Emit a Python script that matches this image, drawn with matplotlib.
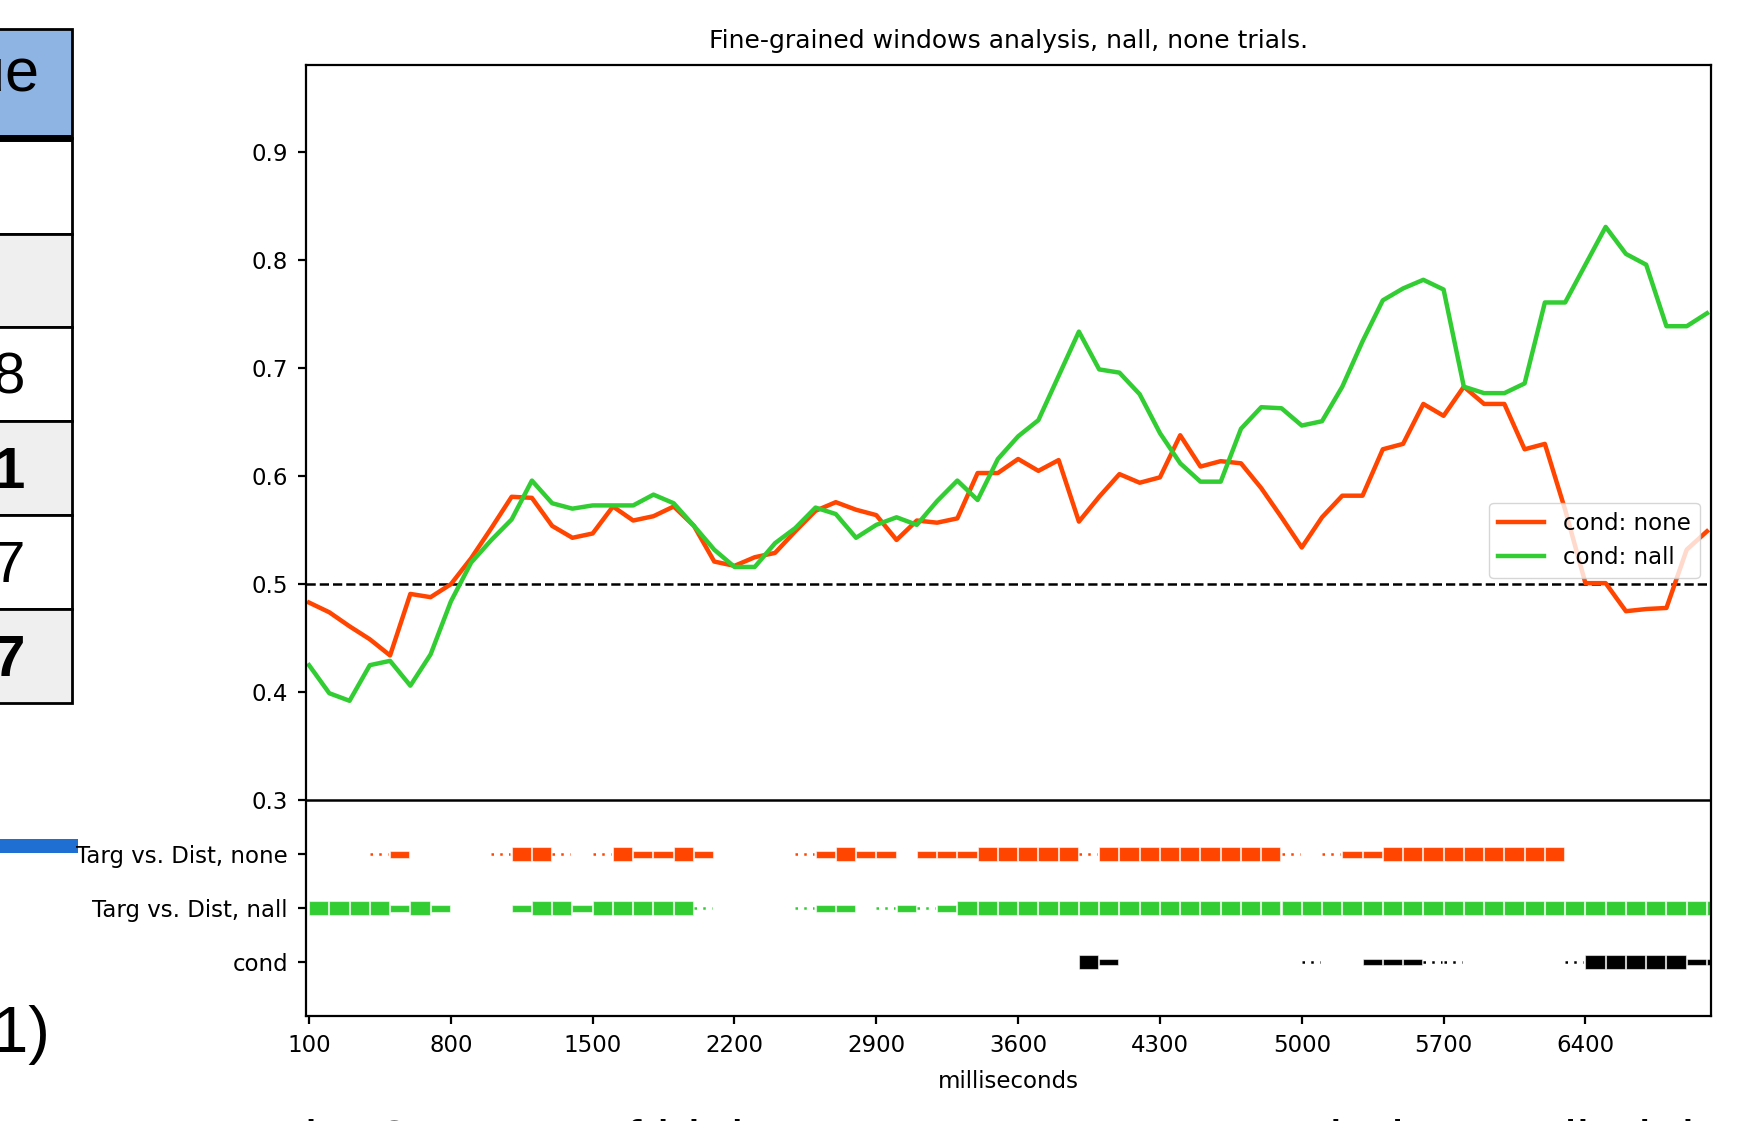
import matplotlib
matplotlib.use("Agg")
import matplotlib.pyplot as plt
from matplotlib.patches import Rectangle
import numpy as np

# ---- data ---------------------------------------------------------------
t_first, t_step = 100, 100                     # window onsets in ms
none_acc = [0.483, 0.474, 0.461, 0.449, 0.434, 0.491, 0.488, 0.500, 0.524, 0.552,
            0.581, 0.580, 0.554, 0.543, 0.547, 0.572, 0.559, 0.563, 0.572, 0.554,
            0.521, 0.517, 0.525, 0.529, 0.549, 0.568, 0.576, 0.569, 0.564, 0.541,
            0.559, 0.557, 0.561, 0.603, 0.603, 0.616, 0.605, 0.615, 0.558, 0.581,
            0.602, 0.594, 0.599, 0.638, 0.609, 0.614, 0.612, 0.589, 0.562, 0.534,
            0.562, 0.582, 0.582, 0.625, 0.630, 0.667, 0.656, 0.683, 0.667, 0.667,
            0.625, 0.630, 0.569, 0.501, 0.501, 0.475, 0.477, 0.478, 0.532, 0.549]
nall_acc = [0.425, 0.399, 0.392, 0.425, 0.429, 0.406, 0.435, 0.484, 0.520, 0.541,
            0.560, 0.596, 0.575, 0.570, 0.573, 0.573, 0.573, 0.583, 0.575, 0.554,
            0.532, 0.516, 0.516, 0.538, 0.552, 0.571, 0.565, 0.543, 0.555, 0.562,
            0.555, 0.577, 0.596, 0.578, 0.616, 0.637, 0.652, 0.693, 0.734, 0.699,
            0.696, 0.676, 0.640, 0.612, 0.595, 0.595, 0.644, 0.664, 0.663, 0.647,
            0.651, 0.683, 0.725, 0.763, 0.774, 0.782, 0.773, 0.683, 0.677, 0.677,
            0.686, 0.761, 0.761, 0.796, 0.831, 0.806, 0.796, 0.739, 0.739, 0.751]

# significance per window: 0 none, 1 dotted, 2 thin bar, 3 thick bar
sig_none = [0, 0, 0, 1, 2, 0, 0, 0, 0, 1,
            3, 3, 1, 0, 1, 3, 2, 2, 3, 2,
            0, 0, 0, 0, 1, 2, 3, 2, 2, 0,
            2, 2, 2, 3, 3, 3, 3, 3, 1, 3,
            3, 3, 3, 3, 3, 3, 3, 3, 1, 0,
            1, 2, 2, 3, 3, 3, 3, 3, 3, 3,
            3, 3, 0, 0, 0, 0, 0, 0, 0, 0]
sig_nall = [3, 3, 3, 3, 2, 3, 2, 0, 0, 0,
            2, 3, 3, 2, 3, 3, 3, 3, 3, 1,
            0, 0, 0, 0, 1, 2, 2, 0, 1, 2,
            1, 2, 3, 3, 3, 3, 3, 3, 3, 3,
            3, 3, 3, 3, 3, 3, 3, 3, 3, 3,
            3, 3, 3, 3, 3, 3, 3, 3, 3, 3,
            3, 3, 3, 3, 3, 3, 3, 3, 3, 3]
sig_cond = [0, 0, 0, 0, 0, 0, 0, 0, 0, 0,
            0, 0, 0, 0, 0, 0, 0, 0, 0, 0,
            0, 0, 0, 0, 0, 0, 0, 0, 0, 0,
            0, 0, 0, 0, 0, 0, 0, 0, 3, 2,
            0, 0, 0, 0, 0, 0, 0, 0, 0, 1,
            0, 0, 2, 2, 2, 1, 1, 0, 0, 0,
            0, 0, 1, 3, 3, 3, 3, 3, 2, 2]

row_labels = ["Targ vs. Dist, none", "Targ vs. Dist, nall", "cond"]
row_pos = [0.25, 0.20, 0.15]
acc_ticks = [0.3, 0.4, 0.5, 0.6, 0.7, 0.8, 0.9]
x_ticks = [100, 800, 1500, 2200, 2900, 3600, 4300, 5000, 5700, 6400]

RED = "#ff4500"
GREEN = "#32cd32"

times = t_first + t_step * np.arange(len(none_acc))

fig = plt.figure(figsize=(17.45, 11.21), dpi=100)

# ---- page around the chart (cropped table, caption) ---------------------
deco = fig.add_axes([0, 0, 1, 1], zorder=-1)
deco.set_xlim(0, 1745)
deco.set_ylim(1121, 0)
deco.axis("off")

cell_edges = [29, 138, 234, 327, 421, 515, 609, 703]
cell_fill = ["#8db4e2", "white", "#efefef", "white", "#efefef", "white", "#efefef"]
for k in range(len(cell_fill)):
    deco.add_patch(Rectangle((-5, cell_edges[k]), 77, cell_edges[k+1] - cell_edges[k],
                             facecolor=cell_fill[k], edgecolor="black", linewidth=2))
deco.plot([-5, 72], [138, 138], color="black", linewidth=5, solid_capstyle="butt")
sans = ["Liberation Sans", "DejaVu Sans"]
deco.text(39, 92, "ue", ha="right", va="baseline", fontsize=44, family=sans)
cell_text = ["8", "1", "7", "7"]
cell_bold = [False, True, False, True]
for k, (s, b) in enumerate(zip(cell_text, cell_bold)):
    yc = (cell_edges[k+3] + cell_edges[k+4]) / 2
    deco.text(25, yc + 20, s, ha="right", va="baseline", fontsize=42, family=sans,
              fontweight="bold" if b else "normal")
deco.add_patch(Rectangle((0, 839), 78, 14, facecolor="#1f6fd2", edgecolor="none"))
deco.text(50, 1052, "1)", ha="right", va="baseline", fontsize=47, family=sans)
deco.text(271, 1159, "Fig. 3: Rows of highest test accuracy per window, nall trials, cuts of the right",
          ha="left", va="baseline", fontsize=40, family=sans)

# ---- chart --------------------------------------------------------------
ax = fig.add_axes([0.17536, 0.09367, 0.80516, 0.84835])

ax.axhline(0.5, color="black", linestyle="--", linewidth=1.8)
ax.axhline(0.3, color="black", linewidth=1.8)
ax.plot(times, none_acc, color=RED, linewidth=3.2, label="cond: none")
ax.plot(times, nall_acc, color=GREEN, linewidth=3.2, label="cond: nall")

win_w = 0.95 * t_step
for y, sig, col in zip(row_pos, [sig_none, sig_nall, sig_cond], [RED, GREEN, "black"]):
    sig = np.asarray(sig)
    for lvl, h in ((3, 0.0136), (2, 0.0064)):
        t = times[sig == lvl]
        ax.broken_barh([(x, win_w) for x in t], (y - h / 2, h), facecolors=col,
                       edgecolors=(1, 1, 1, 0.55), linewidth=0.8)
    t = times[sig == 1]
    ax.hlines([y] * len(t), t, t + 0.9 * t_step, colors=col, linewidth=1.8,
              linestyles=[(0, (1, 2.5))])

ax.set_xlim(85, 7020)
ax.set_ylim(0.1, 0.981)
ax.set_xticks(x_ticks)
ax.set_xticklabels([str(v) for v in x_ticks])
ax.set_yticks(row_pos + acc_ticks)
ax.set_yticklabels(row_labels + ["%.1f" % v for v in acc_ticks])

for sp in ax.spines.values():
    sp.set_linewidth(1.6)
ax.tick_params(direction="out", length=6, width=1.6, labelsize=16.5, pad=7,
               top=False, right=False)

ax.set_title("Fine-grained windows analysis, nall, none trials.", fontsize=18, pad=12)
ax.set_xlabel("milliseconds", fontsize=16.5, labelpad=9)
ax.legend(loc="center right", fontsize=16.5)

fig.savefig("out.png", dpi=100)
